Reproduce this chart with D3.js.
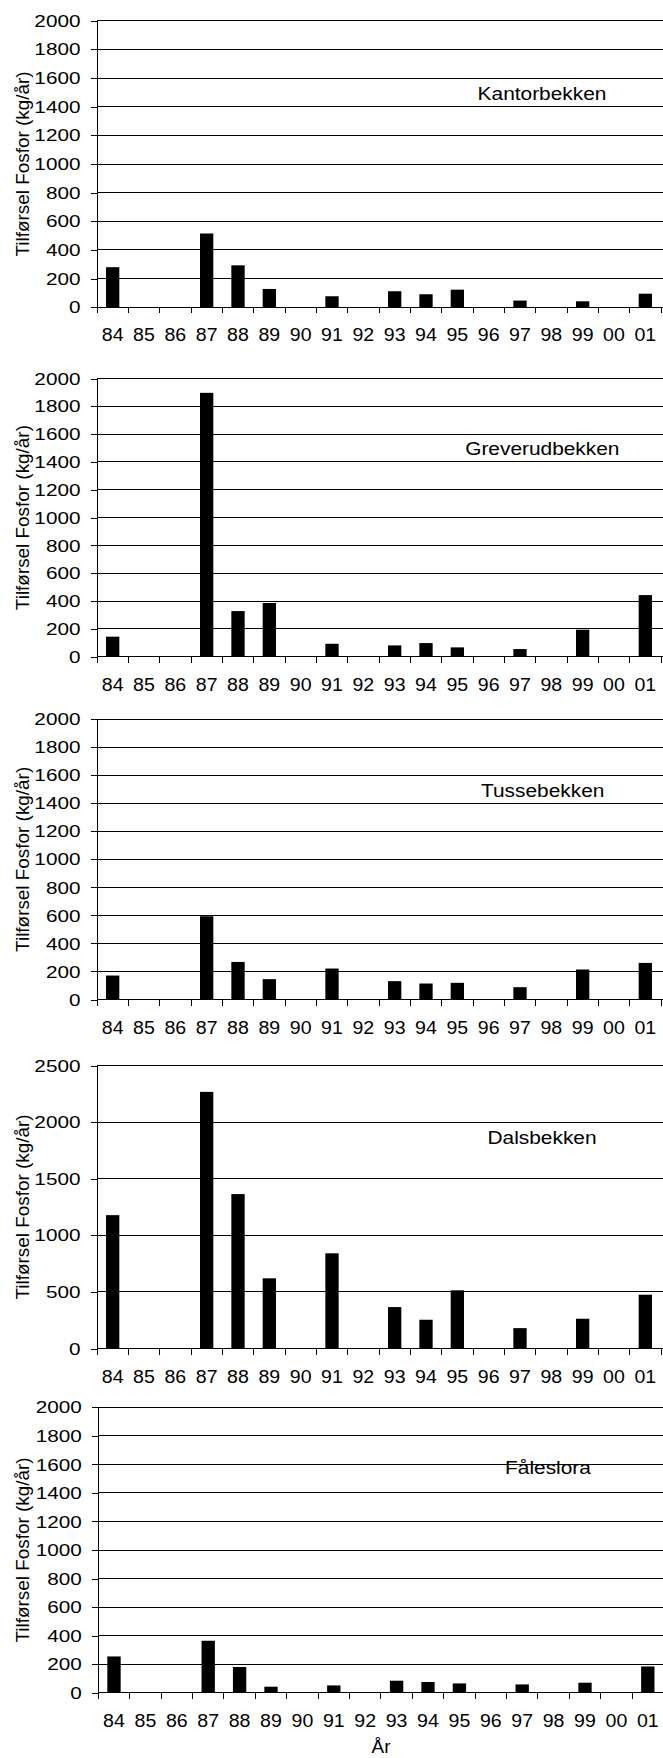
<!DOCTYPE html>
<html>
<head>
<meta charset="utf-8">
<script src="https://cdn.jsdelivr.net/npm/d3@7"></script>
<style>
  html, body { margin: 0; padding: 0; background: #fff; }
  svg { display: block; }
  text { font-family: "Liberation Sans", Arial, sans-serif; fill: #000; }
</style>
</head>
<body>
<svg id="chart" width="663" height="1758"></svg>
<script>
// ---- Data ----
const years = ["84","85","86","87","88","89","90","91","92","93","94","95","96","97","98","99","00","01"];
const kantorbekken   = [280, null, null, 515, 293, 128, null, 77, null, 112, 91, 123, null, 47, null, 42, null, 95];
const greverudbekken = [144, null, null, 1897, 328, 386, null, 93, null, 81, 98, 67, null, 55, null, 194, null, 443];
const tussebekken    = [171, null, null, 594, 268, 145, null, 221, null, 131, 114, 119, null, 88, null, 214, null, 261];
const dalsbekken     = [1178, null, null, 2267, 1364, 620, null, 841, null, 366, 254, 514, null, 180, null, 263, null, 475];
const faleslora      = [254, null, null, 364, 180, 42, null, 51, null, 84, 75, 65, null, 58, null, 70, null, 184];
const titles = ["Kantorbekken", "Greverudbekken", "Tussebekken", "Dalsbekken", "Fåleslora"];
const ticks2000 = [0, 200, 400, 600, 800, 1000, 1200, 1400, 1600, 1800, 2000];
const ticks2500 = [0, 500, 1000, 1500, 2000, 2500];
const yLabel = "Tilførsel Fosfor (kg/år)";
const xLabel = "År";

const seriesList = [kantorbekken, greverudbekken, tussebekken, dalsbekken, faleslora];
const tickList = [ticks2000, ticks2000, ticks2000, ticks2500, ticks2000];

// ---- Layout (per panel) ----
const layout = [
  { top: 20.7,   zero: 307.3,  left: 97.0, right: 661.0, titleY: 100.0 },
  { top: 378.5,  zero: 656.7,  left: 97.0, right: 661.0, titleY: 455.0 },
  { top: 719.2,  zero: 999.5,  left: 97.0, right: 661.0, titleY: 796.7 },
  { top: 1065.5, zero: 1348.5, left: 97.0, right: 661.0, titleY: 1144.0 },
  { top: 1407.3, zero: 1692.7, left: 98.3, right: 663.5, titleY: 1474.0 }
];
const titleX = [542, 542.3, 542.7, 542, 548];

const svg = d3.select("#chart");

function stretchedText(g, x, y, str, opts) {
  const t = g.append("g")
    .attr("transform", `translate(${x},${y})` + (opts.rotate ? ` rotate(${opts.rotate})` : "") + ` scale(${opts.sx || 1},1)`);
  t.append("text")
    .attr("x", 0).attr("y", 0)
    .attr("text-anchor", opts.anchor || "start")
    .attr("dy", opts.dy || 0)
    .style("font-size", opts.size + "px")
    .text(str);
  return t;
}

seriesList.forEach((values, i) => {
  const L = layout[i];
  const ticks = tickList[i];
  const maxV = ticks[ticks.length - 1];
  const g = svg.append("g");

  const xBand = d3.scaleBand().domain(years).range([L.left, L.right]).padding(0);
  const xBar = d3.scaleBand().domain(years).range([L.left, L.right])
    .paddingInner(0.575).paddingOuter(0.2875);
  const y = d3.scaleLinear().domain([0, maxV]).range([L.zero, L.top]);

  // gridlines
  g.append("g").selectAll("line").data(ticks).join("line")
    .attr("x1", L.left).attr("x2", 663)
    .attr("y1", d => y(d)).attr("y2", d => y(d))
    .attr("stroke", "#000").attr("stroke-width", 1)
    .attr("shape-rendering", "crispEdges");

  // bars
  g.append("g").selectAll("rect")
    .data(years.map((yr, k) => ({ yr, v: values[k] })).filter(d => d.v != null))
    .join("rect")
    .attr("x", d => xBar(d.yr))
    .attr("width", xBar.bandwidth())
    .attr("y", d => y(d.v))
    .attr("height", d => y(0) - y(d.v))
    .attr("fill", "#000");

  // y axis (line + ticks) via d3 axis
  const yAxis = d3.axisLeft(y).tickValues(ticks).tickSize(6).tickSizeOuter(0).tickFormat("");
  const ya = g.append("g").attr("transform", `translate(${L.left},0)`).call(yAxis);
  ya.selectAll("path, line").attr("stroke", "#000").attr("shape-rendering", "crispEdges");

  // y tick labels
  ticks.forEach(t => {
    stretchedText(g, L.left - 16.5, y(t), String(t), { size: 17, sx: 1.22, anchor: "end", dy: "0.36em" });
  });

  // x ticks at band boundaries
  const edges = years.map(yr => xBand(yr)).concat([L.right]);
  g.append("g").selectAll("line").data(edges).join("line")
    .attr("x1", d => d).attr("x2", d => d)
    .attr("y1", y(0)).attr("y2", y(0) + 6)
    .attr("stroke", "#000").attr("shape-rendering", "crispEdges");

  // x tick labels
  years.forEach(yr => {
    stretchedText(g, xBand(yr) + xBand.bandwidth() / 2, y(0) + 34, yr, { size: 19, sx: 1.03, anchor: "middle" });
  });

  // panel title
  stretchedText(g, titleX[i], L.titleY, titles[i], { size: 17.7, sx: 1.18, anchor: "middle" });

  // y axis label
  stretchedText(g, 29, (L.top + L.zero) / 2, yLabel, { size: 17.5, sx: 1.08, anchor: "middle", rotate: -90 });
});

// x axis title
stretchedText(svg, 381, 1753, xLabel, { size: 17.5, sx: 1.08, anchor: "middle" });
</script>
</body>
</html>
